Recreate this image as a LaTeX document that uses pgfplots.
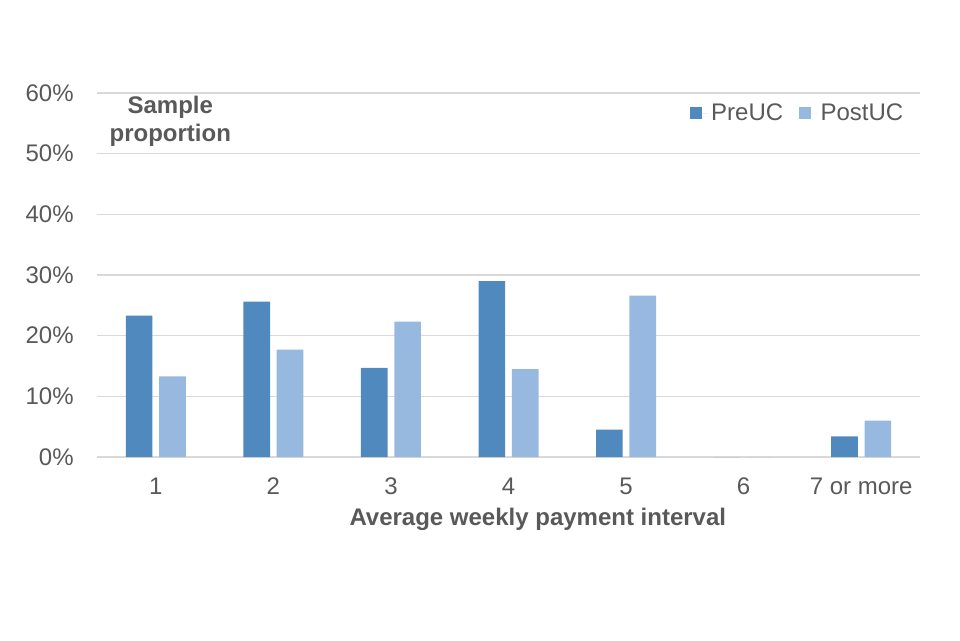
\documentclass[border=0pt]{standalone}
\usepackage{pgfplots}
\pgfplotsset{compat=1.18}
\usepackage{fontspec}
\setmainfont{Liberation Sans}
\definecolor{preuc}{HTML}{4F89BD}
\definecolor{postuc}{HTML}{98B9DF}
\definecolor{txt}{HTML}{595959}
\definecolor{gridc}{HTML}{D9D9D9}
\begin{document}
\begin{tikzpicture}[x=1pt,y=1pt]
\useasboundingbox (0,0) rectangle (720,480);
\begin{axis}[
  at={(72.75pt,137.25pt)}, anchor=south west,
  scale only axis, width=617.25pt, height=273pt,
  ybar=5pt, bar width=20pt,
  xmin=-0.5, xmax=6.5, ymin=0, ymax=60,
  xtick={0,1,2,3,4,5,6},
  xticklabels={1,2,3,4,5,6,7 or more},
  ytick={0,10,20,30,40,50,60},
  yticklabel={\pgfmathprintnumber{\tick}\%},
  /pgf/number format/assume math mode=true,
  ymajorgrids, xmajorgrids=false,
  grid style={gridc, line width=0.9pt},
  axis lines=left,
  x axis line style={gridc, line width=0.9pt, -},
  y axis line style={draw=none},
  major tick length=0pt,
  tick label style={font=\fontsize{18}{20}\selectfont, text=txt},
  yticklabel style={xshift=-14pt},
  xticklabel style={yshift=-12pt},
  xlabel={\textbf{Average weekly payment interval}},
  xlabel style={font=\fontsize{18}{20}\selectfont, text=txt, yshift=-3pt, xshift=22pt},
  legend style={draw=none, fill=none, at={(0.988,0.985)}, anchor=north east,
    legend columns=2, font=\fontsize{18}{20}\selectfont, text=txt,
    /tikz/every even column/.append style={column sep=10pt}},
  legend image code/.code={\fill[#1] (0pt,-4.5pt) rectangle (9pt,4.5pt); \path (0pt,0pt) -- (14pt,0pt);},
  clip=false,
]
\addplot[fill=preuc, draw=none] coordinates {(0,23.3) (1,25.6) (2,14.7) (3,29.0) (4,4.5) (5,0) (6,3.4)};
\addplot[fill=postuc, draw=none] coordinates {(0,13.3) (1,17.7) (2,22.3) (3,14.5) (4,26.6) (5,0) (6,6.0)};
\legend{PreUC, PostUC}
\node[align=center, font=\fontsize{18}{21}\selectfont\bfseries, text=txt] at (rel axis cs:0.089,0.923) {Sample\\proportion};
\end{axis}
\end{tikzpicture}
\end{document}
